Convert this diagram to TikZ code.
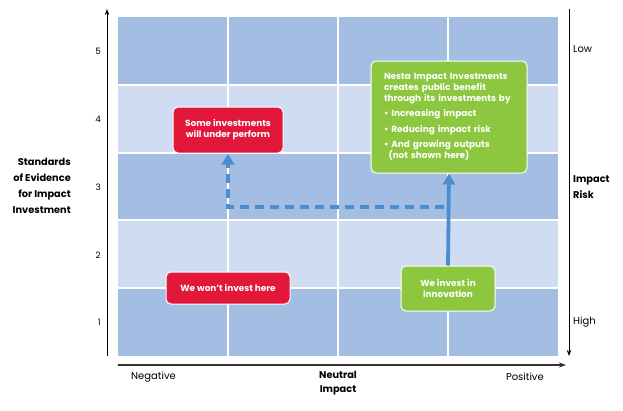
\documentclass[tikz,border=0pt]{standalone}
\usepackage{fontspec}
\setmainfont{Poppins}
\usetikzlibrary{arrows.meta}
\definecolor{darkcell}{HTML}{A3BEE2}
\definecolor{lightcell}{HTML}{D0DCF1}
\definecolor{nred}{HTML}{E2173A}
\definecolor{ngreen}{HTML}{8DC63F}
\definecolor{nblue}{HTML}{4B8ED0}
\definecolor{axisgray}{HTML}{333333}
\tikzset{
  box/.style={draw=white, line width=1pt, rounded corners=5pt, text=white,
    font=\fontsize{8.9}{10.9}\selectfont\bfseries, align=center, inner sep=0pt},
  redbox/.style={box, fill=nred},
  greenbox/.style={box, fill=ngreen},
  tick/.style={font=\fontsize{8.8}{10}\selectfont, anchor=east, inner sep=0pt},
  axlabel/.style={font=\fontsize{10}{11}\selectfont, inner sep=0pt},
  axtitle/.style={font=\fontsize{9.8}{16}\selectfont\bfseries, inner sep=0pt},
  flow/.style={nblue, line width=3.8pt, -{Triangle[length=11pt,width=12pt]}},
  axisline/.style={line width=1pt, -{Stealth[length=6pt,width=4.5pt]}},
}
\begin{document}
\begin{tikzpicture}[x=1pt,y=-1pt]
\useasboundingbox (0,0) rectangle (623,410);
% grid rows
\fill[darkcell]  (118,17)  rectangle (558,85);
\fill[lightcell] (118,85)  rectangle (558,153);
\fill[darkcell]  (118,153) rectangle (558,220);
\fill[lightcell] (118,220) rectangle (558,288);
\fill[darkcell]  (118,288) rectangle (558,356);
\foreach \yy in {85,153,220,288} \draw[white, line width=1.2pt] (118,\yy) -- (558,\yy);
\foreach \xx in {228,338,448} \draw[white, line width=1.2pt] (\xx,17) -- (\xx,356);
% axes
\coordinate (lb) at (107,356);
\coordinate (lt) at (107,9);
\draw[axisline] (lb) -- (lt);
\coordinate (rt) at (569,9);
\coordinate (rb) at (569,356);
\draw[axisline] (rt) -- (rb);
\coordinate (bl) at (118,365);
\coordinate (br) at (566,365);
\draw[axisline, line width=1.6pt, draw=axisgray, -{Stealth[length=7pt,width=5pt]}] (bl) -- (br);
% ticks
\node[tick] (t5) at (101,51) {5};
\node[tick] (t4) at (101,119) {4};
\node[tick] (t3) at (101,187) {3};
\node[tick] (t2) at (101,255) {2};
\node[tick] (t1) at (101,322) {1};
% axis titles
\node[axtitle, align=right, anchor=east] (ytitle) at (71,186) {Standards\\of Evidence\\for Impact\\Investment};
\node[axtitle, align=left, anchor=west] (rtitle) at (573,187) {Impact\\Risk};
\node[axlabel, anchor=west] (low) at (573,49) {Low};
\node[axlabel, anchor=west] (high) at (573,322) {High};
\node[axlabel, anchor=west] (neg) at (131,377) {Negative};
\node[axlabel, anchor=east] (pos) at (544,377) {Positive};
\node[axtitle, font=\fontsize{9.8}{13.5}\selectfont\bfseries, align=center] (neut) at (338,383) {Neutral\\Impact};
% boxes
\node[redbox, minimum width=110pt, minimum height=46pt] (under) at (228,130) {Some investments\\will under perform};
\node[redbox, minimum width=124pt, minimum height=32pt] (wont) at (228,288) {We won’t invest here};
\node[greenbox, minimum width=94pt, minimum height=45pt] (innov) at (448,288.5) {We invest in\\innovation};
\node[greenbox, minimum width=156pt, minimum height=112pt, align=left, text width=130pt] (nesta) at (449,117)
 {Nesta Impact Investments\\creates public benefit\\through its investments by\\[4.5pt]
  • Increasing impact\\[4.5pt]
  • Reducing impact risk\\[4.5pt]
  • And growing outputs\\
  \hspace*{4.5pt}(not shown here)};
% flows
\draw[flow] (innov.north) -- (nesta.south);
\coordinate (dstart) at (444,207);
\coordinate (dcorner) at (228,207);
\draw[flow, dash pattern=on 9pt off 6pt] (dstart) -- (dcorner) -- (under.south);
\end{tikzpicture}
\end{document}
